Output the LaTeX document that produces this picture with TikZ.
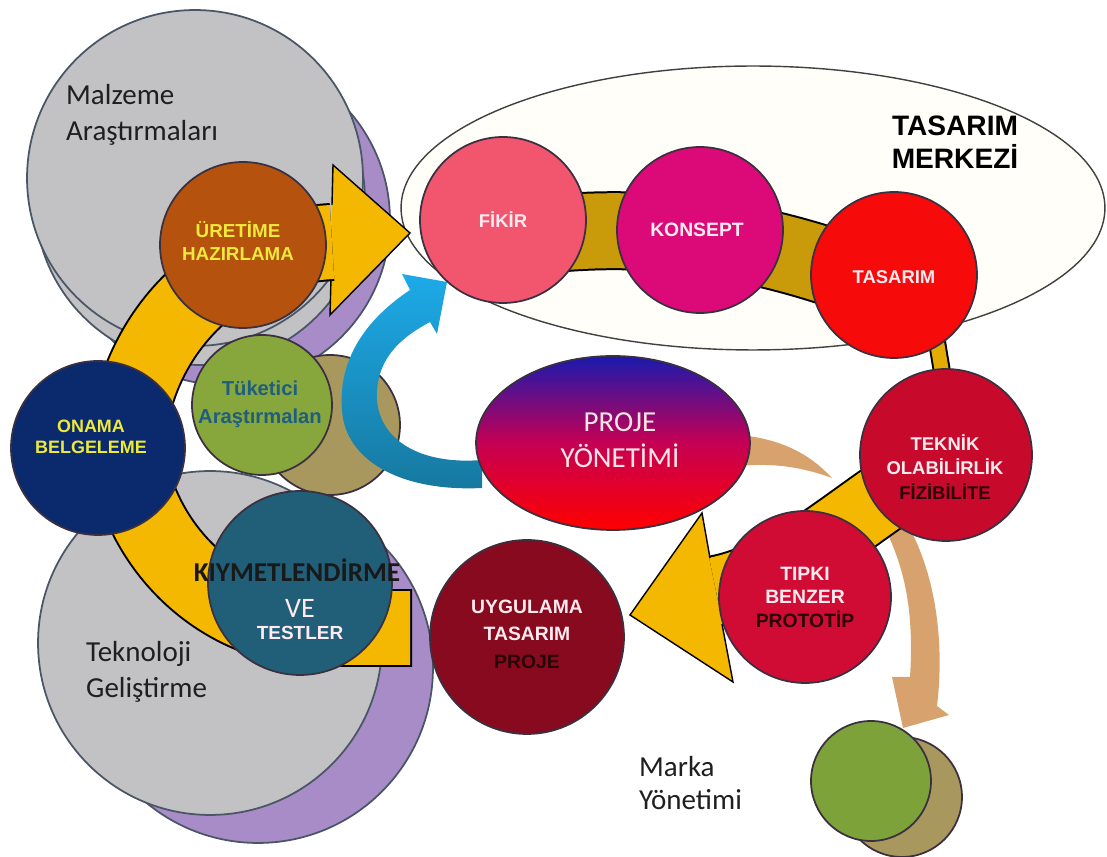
\documentclass[tikz,border=0pt]{standalone}
\usepackage{fontspec}
\setmainfont{Liberation Sans}
\newfontfamily\carlito{Carlito}
\usetikzlibrary{shapes.geometric}
\definecolor{discedge}{HTML}{3A3040}
\definecolor{graydisc}{HTML}{C2C2C4}
\definecolor{grayedge}{HTML}{4A5566}
\definecolor{lavender}{HTML}{A88CC8}
\definecolor{bandgold}{HTML}{C99A0A}
\definecolor{bandyellow}{HTML}{F5B800}
\definecolor{skyblue}{HTML}{1DAAE8}
\definecolor{tealblue}{HTML}{16789E}
\definecolor{tanarrow}{HTML}{D7A26E}
\definecolor{fikirpink}{HTML}{F2566E}
\definecolor{konseptmag}{HTML}{DC0A78}
\definecolor{tasarimred}{HTML}{F60A0A}
\definecolor{teknikred}{HTML}{C70A2C}
\definecolor{tipkired}{HTML}{D00C34}
\definecolor{uygulamared}{HTML}{880A1E}
\definecolor{uretimebrown}{HTML}{B5520E}
\definecolor{onamanavy}{HTML}{0B2A6E}
\definecolor{tuketicigreen}{HTML}{87A63C}
\definecolor{olivedisc}{HTML}{A8985E}
\definecolor{kiymetteal}{HTML}{215E78}
\definecolor{markagreen}{HTML}{7DA23A}
\definecolor{labelyellow}{HTML}{EEEA3A}
\definecolor{labeldark}{HTML}{2A0508}
\definecolor{labelpink}{HTML}{FFEAF0}
\definecolor{tuketicitext}{HTML}{1E5E80}
\definecolor{ellipsefill}{HTML}{FFFEF8}
\tikzset{
  disc/.style={circle,draw=discedge,line width=1pt,inner sep=0pt},
  bigdisc/.style={circle,draw=grayedge,line width=1pt,inner sep=0pt},
  capsfont/.style={font=\bfseries\fontsize{10.5}{14}\selectfont,align=center,text=labelpink},
  notefont/.style={font=\carlito\fontsize{16.5}{20.5}\selectfont,align=left,text=black!88,anchor=west},
  bandedge/.style={draw=black,line width=#1},
  bandfill/.style={line width=#1}
}

\begin{document}
\begin{tikzpicture}[x=0.02cm,y=-0.02cm]
  \useasboundingbox (0,0) rectangle (1107,857);
  % research discs at the back
  \node[bigdisc,fill=lavender,minimum size=6.6cm] (malzemeback) at (225,220) {};
  \node[bigdisc,fill=graydisc,minimum size=6.6cm] (malzememid) at (200,200) {};
  \node[bigdisc,fill=graydisc,minimum size=6.72cm] (malzeme) at (195,178) {};
  \node[bigdisc,fill=lavender,minimum size=7cm] (teknolojiback) at (258,668) {};
  \node[bigdisc,fill=graydisc,minimum size=6.88cm] (teknoloji) at (210,643) {};
  % design centre
  \node[ellipse,draw=black!75,fill=ellipsefill,line width=0.8pt,
    minimum width=14.08cm,minimum height=5.68cm] (merkez) at (753,208) {};
  \node[disc,fill=olivedisc,minimum size=2.8cm] (tuketiciback) at (330,425) {};
  \node[disc,fill=tuketicigreen,minimum size=2.8cm] (tuketici) at (262,405) {};
  % left loop
  \fill[bandyellow] (333,165) -- (410,233) -- (330,315) -- cycle;
  \draw[black,line width=0.8pt] (332,205) -- (333,165) -- (410,233) -- (330,315) -- (331,279);
  \draw[bandedge=1.56cm] (412,628) -- (320,628) .. controls (230,628) and (150,560) .. (130,470)
    .. controls (115,390) and (180,250) .. (332,242);
  \draw[bandfill=1.48cm,draw=bandyellow] (410,628) -- (320,628) .. controls (230,628) and (150,560) .. (130,470)
    .. controls (115,390) and (180,250) .. (332,242);
  % blue return arrow
  \shade[top color=skyblue,bottom color=tealblue] (410,290) .. controls (365,320) and (338,360) .. (342,410)
    .. controls (345,460) and (400,492) .. (482,488) -- (482,460)
    .. controls (420,465) and (380,440) .. (377,400) .. controls (375,360) and (400,338) .. (430,322)
    -- (437,334) -- (447,282) -- (402,274) -- cycle;
  % brand arrow
  \fill[tanarrow] (740,435) .. controls (790,440) and (815,460) .. (832,478)
    .. controls (810,470) and (780,462) .. (740,466) -- cycle;
  \fill[tanarrow] (885,528) .. controls (900,560) and (915,600) .. (910,677) -- (892,677) -- (903,728)
    -- (949,715) -- (937,706) .. controls (945,640) and (935,570) .. (905,520) -- cycle;
  % design band
  \draw[bandedge=1.58cm] (500,240) .. controls (600,225) and (720,220) .. (894,290);
  \draw[bandfill=1.5cm,draw=bandgold] (500,240) .. controls (600,225) and (720,220) .. (894,290);
  \draw[bandedge=0.36cm] (930,300) -- (950,420);
  \draw[bandfill=0.28cm,draw=bandyellow!60!bandgold] (930,300) -- (950,420);
  \fill[bandyellow] (702,513) -- (630,615) -- (733,682) -- cycle;
  \draw[bandedge=1.44cm] (946,455) -- (880,500) .. controls (830,535) and (775,580) .. (716,591);
  \draw[bandfill=1.36cm,draw=bandyellow] (946,455) -- (880,500) .. controls (830,535) and (775,580) .. (716,591);
  \draw[black,line width=0.8pt] (710,558) -- (702,513) -- (630,615) -- (733,682) -- (722,624);
  % stage discs
  \node[disc,fill=uretimebrown,minimum size=3.32cm] (uretime) at (243,245) {};
  \node[disc,fill=onamanavy,minimum size=3.48cm] (onama) at (98,448) {};
  \node[disc,fill=kiymetteal,minimum size=3.68cm] (kiymet) at (300,583) {};
  \node[disc,fill=fikirpink,minimum size=3.32cm] (fikir) at (503,220) {};
  \node[disc,fill=konseptmag,minimum size=3.32cm] (konsept) at (700,230) {};
  \node[disc,fill=tasarimred,minimum size=3.32cm] (tasarim) at (894,275) {};
  \node[disc,fill=teknikred,minimum size=3.44cm] (teknik) at (946,455) {};
  \node[disc,fill=tipkired,minimum size=3.44cm] (tipki) at (805,597) {};
  \node[disc,fill=uygulamared,minimum size=3.88cm] (uygulama) at (527,637) {};
  \node[ellipse,draw=discedge,line width=1pt,top color=blue!65!black!90,bottom color=red,
    middle color=purple!90!magenta,minimum width=5.48cm,minimum height=3.48cm] (proje) at (613,443) {};
  \node[disc,fill=olivedisc,minimum size=2.4cm] (markaback) at (902,797) {};
  \node[disc,fill=markagreen,minimum size=2.4cm] (marka) at (871,781) {};
  % labels
  \node[notefont] (malzemetext) at (60,115) {Malzeme\\Araştırmaları};
  \node[notefont] (teknolojitext) at (80,672) {Teknoloji\\Geliştirme};
  \node[notefont,font=\carlito\fontsize{16.5}{18.8}\selectfont] (markatext) at (633,783) {Marka\\Yönetimi};
  \node[font=\bfseries\fontsize{16}{18.8}\selectfont,align=center] (merkeztext) at (955,142) {TASARIM\\MERKEZİ};
  \node[capsfont] (fikirtext) at (fikir) {FİKİR};
  \node[capsfont,font=\bfseries\fontsize{11}{14}\selectfont] (konsepttext) at (697,230) {KONSEPT};
  \node[capsfont] (tasarimtext) at (894,277) {TASARIM};
  \node[capsfont] (teknikext) at (945,467) {TEKNİK\\OLABİLİRLİK\\\textcolor{labeldark}{FİZİBİLİTE}};
  \node[capsfont,font=\bfseries\fontsize{11}{13.4}\selectfont] (tipkitext) at (805,597) {TIPKI\\BENZER\\\textcolor{labeldark}{PROTOTİP}};
  \node[capsfont,font=\bfseries\fontsize{11}{15.6}\selectfont] (uygulamatext) at (527,634) {UYGULAMA\\TASARIM\\\textcolor{labeldark}{PROJE}};
  \node[font=\carlito\fontsize{16.5}{20.4}\selectfont,align=center,text=pink!40!white] (projetext) at (620,440) {PROJE\\YÖNETİMİ};
  \node[capsfont,font=\bfseries\fontsize{10.7}{13}\selectfont,text=labelyellow] (uretimetext) at (238,241) {ÜRETİME\\HAZIRLAMA};
  \node[capsfont,font=\bfseries\fontsize{10.2}{12}\selectfont,text=labelyellow] (onamatext) at (91,437) {ONAMA\\BELGELEME};
  \node[capsfont,font=\bfseries\fontsize{11.5}{15.9}\selectfont,text=tuketicitext] (tuketicitext) at (260,404) {Tüketici\\Araştırmalan};
  \node[font=\carlito\bfseries\fontsize{15.5}{16}\selectfont,text=black!90] (kiymettitle) at (297,570) {KIYMETLENDİRME};
  \node[font=\carlito\fontsize{16}{16}\selectfont,text=labelpink] (vetext) at (300,608) {VE};
  \node[capsfont,font=\bfseries\fontsize{10.8}{13}\selectfont] (testlertext) at (300,633) {TESTLER};
\end{tikzpicture}
\end{document}
